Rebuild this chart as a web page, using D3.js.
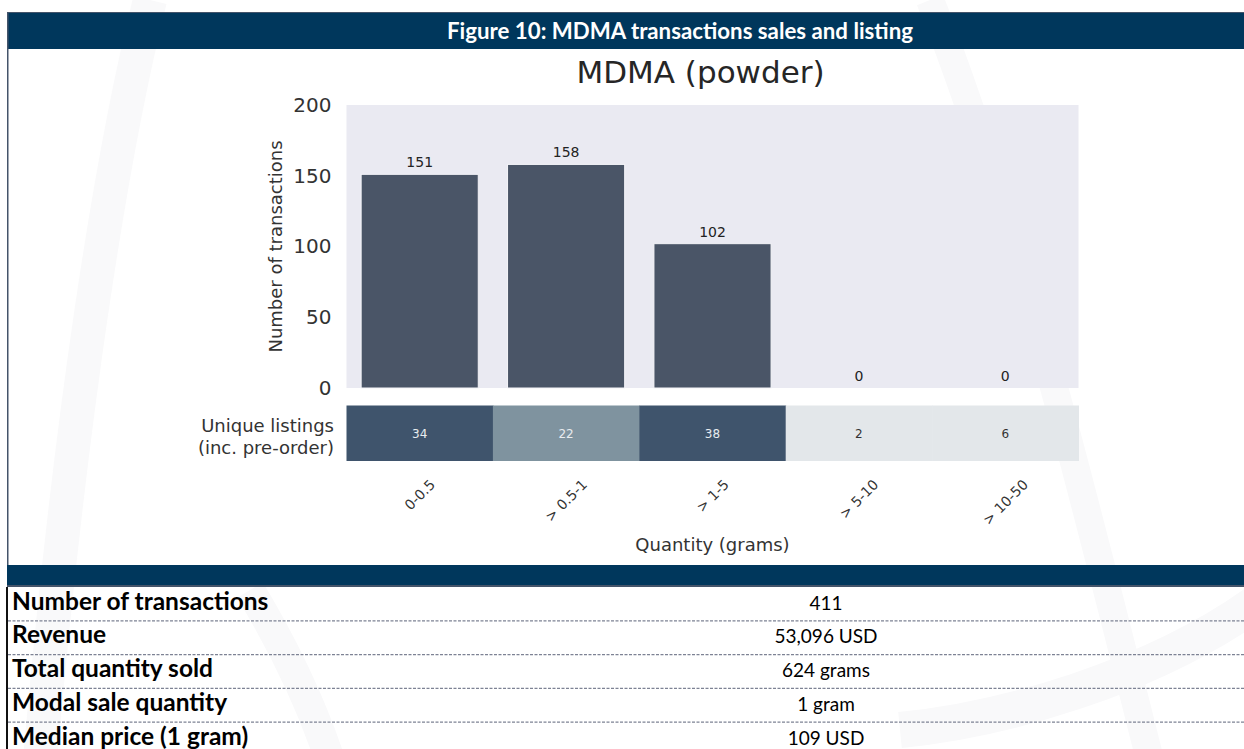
<!DOCTYPE html>
<html>
<head>
<meta charset="utf-8">
<script src="https://cdn.jsdelivr.net/npm/d3@7"></script>
<style>
  html, body { margin: 0; padding: 0; background: #fff; }
  svg { display: block; }
</style>
</head>
<body>
<svg id="chart" width="1244" height="749"></svg>
<script>
// Figure 10 — MDMA (powder): transactions per quantity bin + unique listings strip + summary table

const categories = ["0-0.5", "> 0.5-1", "> 1-5", "> 5-10", "> 10-50"];
const transactions = [151, 158, 102, 0, 0];
const listings = [34, 22, 38, 2, 6];
const yTicks = [0, 50, 100, 150, 200];

const statLabels = [
  "Number of transactions",
  "Revenue",
  "Total quantity sold",
  "Modal sale quantity",
  "Median price (1 gram)",
];
const statValues = ["411", "53,096 USD", "624 grams", "1 gram", "109 USD"];

const W = 1244, H = 749;
const NAVY = "#00375c";
const MPL = "DejaVu Sans, sans-serif";
const CAL = "Lato, 'Open Sans', sans-serif";

const svg = d3.select("#chart");

// --- faint watermark arcs behind everything ---
const wm = svg.append("g").attr("fill", "none").attr("stroke", "#f9f9fa");
wm.append("path").attr("stroke-width", 34)
  .attr("d", "M150,0 C110,160 70,420 40,760");
wm.append("path").attr("stroke-width", 30)
  .attr("d", "M250,590 C280,640 310,700 330,760");
wm.append("path").attr("stroke-width", 28)
  .attr("d", "M930,0 C1010,200 1080,480 1150,760");
wm.append("path").attr("stroke-width", 36)
  .attr("d", "M1260,600 C1150,680 1000,720 900,730");

// --- frame + header bars ---
svg.append("rect").attr("x", 7).attr("y", 12).attr("width", W).attr("height", 1.5).attr("fill", "#44546a");
svg.append("rect").attr("x", 7).attr("y", 13).attr("width", W).attr("height", 36).attr("fill", NAVY);
svg.append("rect").attr("x", 7).attr("y", 12).attr("width", 1.5).attr("height", 575).attr("fill", "#44546a");
svg.append("rect").attr("x", 6).attr("y", 587).attr("width", 2).attr("height", H - 587).attr("fill", "#111");

svg.append("text")
  .attr("x", 680).attr("y", 39)
  .attr("text-anchor", "middle")
  .attr("font-family", CAL).attr("font-weight", 700).attr("font-size", 22)
  .attr("fill", "#fff")
  .attr("textLength", 466).attr("lengthAdjust", "spacingAndGlyphs")
  .text("Figure 10: MDMA transactions sales and listing");

svg.append("rect").attr("x", 7).attr("y", 565).attr("width", W).attr("height", 20).attr("fill", NAVY);
svg.append("rect").attr("x", 7).attr("y", 585).attr("width", W).attr("height", 2).attr("fill", "#44546a");

// --- bar chart ---
const plot = { left: 346.5, right: 1078.5, top: 105, bottom: 388 };

const x = d3.scaleBand()
  .domain(categories)
  .range([plot.left, plot.right])
  .paddingInner(0.2)
  .paddingOuter(0.1);

const xCell = d3.scaleBand()
  .domain(categories)
  .range([plot.left, plot.right]);

const y = d3.scaleLinear()
  .domain([0, 200])
  .range([plot.bottom, plot.top]);

svg.append("rect")
  .attr("x", plot.left).attr("y", plot.top)
  .attr("width", plot.right - plot.left).attr("height", plot.bottom - plot.top)
  .attr("fill", "#eaeaf2");

svg.append("text")
  .attr("x", 700.5).attr("y", 83)
  .attr("text-anchor", "middle")
  .attr("font-family", MPL).attr("font-size", 31)
  .attr("fill", "#262626")
  .text("MDMA (powder)");

const yAxis = svg.append("g")
  .attr("transform", `translate(${plot.left},0)`)
  .call(d3.axisLeft(y).tickValues(yTicks).tickSize(0).tickPadding(15));
yAxis.select(".domain").remove();
yAxis.selectAll("text")
  .attr("font-family", MPL).attr("font-size", 20).attr("fill", "#333");

svg.append("text")
  .attr("transform", `translate(282,${(plot.top + plot.bottom) / 2}) rotate(-90)`)
  .attr("text-anchor", "middle")
  .attr("font-family", MPL).attr("font-size", 18).attr("fill", "#333")
  .text("Number of transactions");

const bars = categories.map((c, i) => ({ c, v: transactions[i] }));

svg.append("g").selectAll("rect")
  .data(bars)
  .join("rect")
  .attr("x", d => x(d.c))
  .attr("y", d => y(d.v))
  .attr("width", x.bandwidth())
  .attr("height", d => y(0) - y(d.v))
  .attr("fill", "#4a5567")
  .attr("stroke", "#f4f4f8")
  .attr("stroke-width", 1);

svg.append("g").selectAll("text")
  .data(bars)
  .join("text")
  .attr("x", d => x(d.c) + x.bandwidth() / 2)
  .attr("y", d => y(d.v) - 7)
  .attr("text-anchor", "middle")
  .attr("font-family", MPL).attr("font-size", 14).attr("fill", "#222")
  .text(d => d.v);

// --- unique listings strip ---
const strip = { top: 405.5, bottom: 461 };
const cellColor = d3.scaleThreshold().domain([10, 30]).range(["#e3e7ea", "#7f939f", "#3f546c"]);
const cellText = d3.scaleThreshold().domain([10]).range(["#333", "#e8ecef"]);
const cells = categories.map((c, i) => ({ c, v: listings[i] }));

svg.append("g").selectAll("rect")
  .data(cells)
  .join("rect")
  .attr("x", d => xCell(d.c))
  .attr("y", strip.top)
  .attr("width", xCell.bandwidth() + 0.5)
  .attr("height", strip.bottom - strip.top)
  .attr("fill", d => cellColor(d.v));

svg.append("g").selectAll("text")
  .data(cells)
  .join("text")
  .attr("x", d => xCell(d.c) + xCell.bandwidth() / 2)
  .attr("y", (strip.top + strip.bottom) / 2)
  .attr("dy", "0.36em")
  .attr("text-anchor", "middle")
  .attr("font-family", MPL).attr("font-size", 12)
  .attr("fill", d => cellText(d.v))
  .text(d => d.v);

const stripLabel = svg.append("text")
  .attr("text-anchor", "end")
  .attr("font-family", MPL).attr("font-size", 18).attr("fill", "#333");
stripLabel.append("tspan").attr("x", 334).attr("y", 432).text("Unique listings");
stripLabel.append("tspan").attr("x", 334).attr("y", 454).text("(inc. pre-order)");

// rotated category labels, bbox centred on the cell and top-aligned under the strip
const tickG = svg.append("g");
categories.forEach(c => {
  const t = tickG.append("text")
    .attr("text-anchor", "middle")
    .attr("dominant-baseline", "central")
    .attr("font-family", MPL).attr("font-size", 14).attr("fill", "#333")
    .text(c);
  const w = t.node().getComputedTextLength();
  const cy = 477 + (w + 14) * Math.SQRT1_2 / 2;
  t.attr("transform", `translate(${xCell(c) + xCell.bandwidth() / 2},${cy}) rotate(-45)`);
});

svg.append("text")
  .attr("x", (plot.left + plot.right) / 2).attr("y", 551)
  .attr("text-anchor", "middle")
  .attr("font-family", MPL).attr("font-size", 18).attr("fill", "#333")
  .text("Quantity (grams)");

// --- summary table ---
const rowTop = 587, rowH = 33.8;
const rows = statLabels.map((l, i) => ({ l, v: statValues[i], i }));

svg.append("g").selectAll("line")
  .data(rows.slice(0, -1))
  .join("line")
  .attr("x1", 8).attr("x2", W)
  .attr("y1", d => rowTop + rowH * (d.i + 1))
  .attr("y2", d => rowTop + rowH * (d.i + 1))
  .attr("stroke", "#7d8294").attr("stroke-width", 1.2)
  .attr("stroke-dasharray", "3,1.5");

svg.append("g").selectAll("text")
  .data(rows)
  .join("text")
  .attr("x", 12)
  .attr("y", d => rowTop + rowH * d.i + 22.5)
  .attr("font-family", CAL).attr("font-weight", 700).attr("font-size", 24.5)
  .attr("fill", "#000")
  .text(d => d.l);

svg.append("g").selectAll("text")
  .data(rows)
  .join("text")
  .attr("x", 826)
  .attr("y", d => rowTop + rowH * d.i + 22.5)
  .attr("text-anchor", "middle")
  .attr("font-family", CAL).attr("font-size", 19)
  .attr("fill", "#000")
  .text(d => d.v);
</script>
</body>
</html>
